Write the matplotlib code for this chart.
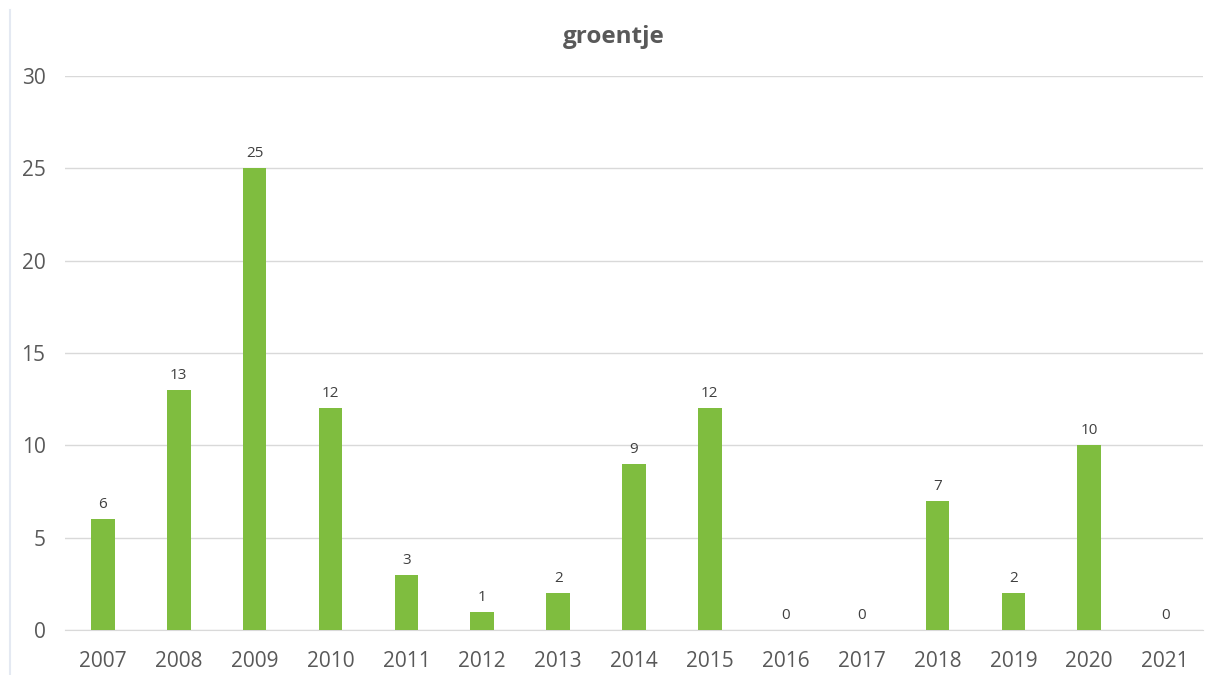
import matplotlib.pyplot as plt
from matplotlib.lines import Line2D

# data
years = ['2007', '2008', '2009', '2010', '2011', '2012', '2013', '2014',
         '2015', '2016', '2017', '2018', '2019', '2020', '2021']
counts = [6, 13, 25, 12, 3, 1, 2, 9, 12, 0, 0, 7, 2, 10, 0]
yticks = [0, 5, 10, 15, 20, 25, 30]

plt.rcParams['font.family'] = ['Open Sans', 'DejaVu Sans']

fig = plt.figure(figsize=(12.12, 6.75), dpi=100)
ax = fig.add_axes([0.0536, 0.0667, 0.9390, 0.8207])

x = range(len(years))
bars = ax.bar(x, counts, width=0.31, color='#7fbd3f', zorder=3)
ax.bar_label(bars, labels=[str(c) for c in counts], padding=5,
             fontsize=11, color='#404040')

ax.set_xlim(-0.5, len(years) - 0.5)
ax.set_ylim(0, 30)
ax.set_yticks(yticks)
ax.set_xticks(list(x))
ax.set_xticklabels(years)
ax.tick_params(axis='both', length=0, labelsize=15, labelcolor='#595959')
ax.tick_params(axis='y', pad=14)
ax.tick_params(axis='x', pad=15)
ax.grid(axis='y', color='#d9d9d9', linewidth=1, zorder=0)
for s in ['top', 'right', 'left']:
    ax.spines[s].set_visible(False)
ax.spines['bottom'].set_color('#d9d9d9')

# title, centred on the whole chart
fig.text(614 / 1212, 1 - 37 / 675, 'groentje', fontsize=17.5, fontweight='bold',
         color='#595959', ha='center', va='center')

# thin border on the left edge
fig.add_artist(Line2D([10 / 1212, 10 / 1212], [0, 0.985],
                      transform=fig.transFigure, color='#e4e9f2', linewidth=1.5))

plt.savefig('out.png', dpi=100)
